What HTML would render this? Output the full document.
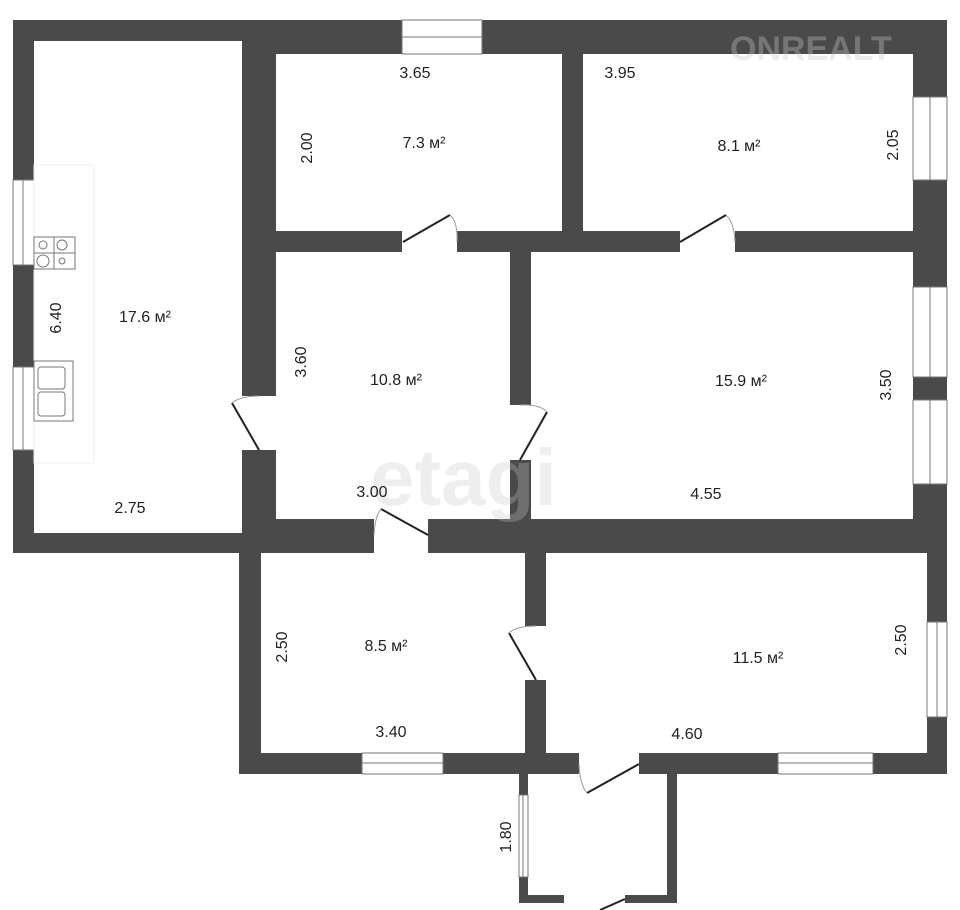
<!DOCTYPE html>
<html><head><meta charset="utf-8"><style>
html,body{margin:0;padding:0;background:#fff;width:960px;height:910px;overflow:hidden}
svg{display:block}
text{font-family:"Liberation Sans Narrow","Liberation Sans",sans-serif;font-size:16px;fill:#222}
</style></head><body>
<svg width="960" height="910" viewBox="0 0 960 910" xmlns="http://www.w3.org/2000/svg">
<g fill="#4a4a4a">
<rect x="13" y="20" width="263" height="21"/>
<rect x="13" y="20" width="21" height="160"/>
<rect x="13" y="265" width="21" height="102"/>
<rect x="13" y="450" width="21" height="103"/>
<rect x="13" y="533" width="248" height="20"/>
<rect x="242" y="20" width="34" height="376"/>
<rect x="242" y="450" width="34" height="103"/>
<rect x="242" y="20" width="160" height="34"/>
<rect x="482" y="20" width="465" height="34"/>
<rect x="562" y="20" width="21" height="232"/>
<rect x="913" y="20" width="34" height="77"/>
<rect x="913" y="180" width="34" height="107"/>
<rect x="913" y="377" width="34" height="23"/>
<rect x="913" y="484" width="34" height="69"/>
<rect x="276" y="231" width="126" height="21"/>
<rect x="457" y="231" width="223" height="21"/>
<rect x="735" y="231" width="178" height="21"/>
<rect x="510" y="231" width="21" height="174"/>
<rect x="510" y="460" width="21" height="60"/>
<rect x="242" y="519" width="132" height="34"/>
<rect x="428" y="519" width="519" height="34"/>
<rect x="239" y="533" width="22" height="241"/>
<rect x="525" y="533" width="21" height="93"/>
<rect x="525" y="680" width="21" height="94"/>
<rect x="927" y="533" width="20" height="89"/>
<rect x="927" y="717" width="20" height="57"/>
<rect x="239" y="753" width="123" height="21"/>
<rect x="443" y="753" width="136" height="21"/>
<rect x="639" y="753" width="139" height="21"/>
<rect x="873" y="753" width="74" height="21"/>
<rect x="519" y="774" width="9" height="21"/>
<rect x="519" y="877" width="9" height="26"/>
<rect x="667" y="774" width="10" height="129"/>
<rect x="519" y="895" width="45" height="8"/>
<rect x="625" y="895" width="52" height="8"/>
</g>
<g fill="#fff" stroke="#777" stroke-width="1">
<rect x="402" y="20" width="80" height="34"/><line x1="402" y1="37" x2="482" y2="37"/>
<rect x="13" y="180" width="21" height="85"/><line x1="23" y1="180" x2="23" y2="265"/>
<rect x="13" y="367" width="21" height="83"/><line x1="23" y1="367" x2="23" y2="450"/>
<rect x="913" y="97" width="34" height="83"/><line x1="930" y1="97" x2="930" y2="180"/>
<rect x="913" y="287" width="34" height="90"/><line x1="930" y1="287" x2="930" y2="377"/>
<rect x="913" y="400" width="34" height="84"/><line x1="930" y1="400" x2="930" y2="484"/>
<rect x="927" y="622" width="20" height="95"/><line x1="937" y1="622" x2="937" y2="717"/>
<rect x="362" y="753" width="81" height="21"/><line x1="362" y1="763" x2="443" y2="763"/>
<rect x="778" y="753" width="95" height="21"/><line x1="778" y1="763" x2="873" y2="763"/>
<rect x="519" y="795" width="9" height="82"/><line x1="523" y1="795" x2="523" y2="877"/>
</g>
<g stroke="#222" stroke-width="2" fill="none">
<line x1="403" y1="242" x2="450" y2="215"/>
<line x1="680" y1="242" x2="726" y2="215"/>
<line x1="259" y1="450" x2="232" y2="403"/>
<line x1="520" y1="460" x2="547" y2="412"/>
<line x1="428" y1="535" x2="381" y2="509"/>
<line x1="536" y1="680" x2="509" y2="633"/>
<line x1="639" y1="764" x2="587" y2="793"/>
<line x1="625" y1="899" x2="600" y2="910"/>
</g>
<g stroke="#999" stroke-width="1" fill="none">
<path d="M450 215 Q458 222 457 242"/>
<path d="M726 215 Q734 222 735 242"/>
<path d="M232 403 Q240 396 259 396"/>
<path d="M547 412 Q540 404 520 405"/>
<path d="M381 509 Q375 516 374 535"/>
<path d="M509 633 Q516 626 536 626"/>
<path d="M587 793 Q580 785 579 764"/>
</g>
<g stroke="#777" fill="#fff" stroke-width="1">
<rect x="34" y="165" width="60" height="298" stroke="#eee"/>
<rect x="34" y="237" width="41" height="32"/>
<line x1="54" y1="237" x2="54" y2="269"/><line x1="34" y1="253" x2="75" y2="253"/>
<circle cx="43" cy="245" r="4"/><circle cx="62" cy="245" r="5"/>
<circle cx="43" cy="261" r="6"/><circle cx="62" cy="261" r="3"/>
<rect x="34" y="361" width="39" height="60"/>
<rect x="38" y="367" width="27" height="22" rx="3"/>
<rect x="38" y="392" width="27" height="24" rx="3"/>
</g>
<text x="730" y="60" style="font-size:34px;font-weight:bold;fill:rgba(200,200,200,0.35);font-family:'Liberation Sans',sans-serif">ONREALT</text>
<text x="370" y="505" style="font-size:80px;font-weight:bold;fill:rgba(200,200,200,0.3);font-family:'Liberation Sans',sans-serif">etagi</text>
<text x="415" y="78" text-anchor="middle">3.65</text>
<text x="424" y="148" text-anchor="middle">7.3 м²</text>
<text transform="translate(312,148) rotate(-90)" text-anchor="middle">2.00</text>
<text x="620" y="78" text-anchor="middle">3.95</text>
<text x="739" y="151" text-anchor="middle">8.1 м²</text>
<text transform="translate(898,145) rotate(-90)" text-anchor="middle">2.05</text>
<text x="145" y="322" text-anchor="middle">17.6 м²</text>
<text transform="translate(61,318) rotate(-90)" text-anchor="middle">6.40</text>
<text x="130" y="513" text-anchor="middle">2.75</text>
<text transform="translate(306,362) rotate(-90)" text-anchor="middle">3.60</text>
<text x="396" y="385" text-anchor="middle">10.8 м²</text>
<text x="372" y="497" text-anchor="middle">3.00</text>
<text x="741" y="386" text-anchor="middle">15.9 м²</text>
<text transform="translate(891,385) rotate(-90)" text-anchor="middle">3.50</text>
<text x="706" y="499" text-anchor="middle">4.55</text>
<text transform="translate(287,647) rotate(-90)" text-anchor="middle">2.50</text>
<text x="386" y="651" text-anchor="middle">8.5 м²</text>
<text x="391" y="737" text-anchor="middle">3.40</text>
<text x="758" y="663" text-anchor="middle">11.5 м²</text>
<text transform="translate(906,640) rotate(-90)" text-anchor="middle">2.50</text>
<text x="687" y="739" text-anchor="middle">4.60</text>
<text transform="translate(511,837) rotate(-90)" text-anchor="middle">1.80</text>
</svg>
</body></html>
